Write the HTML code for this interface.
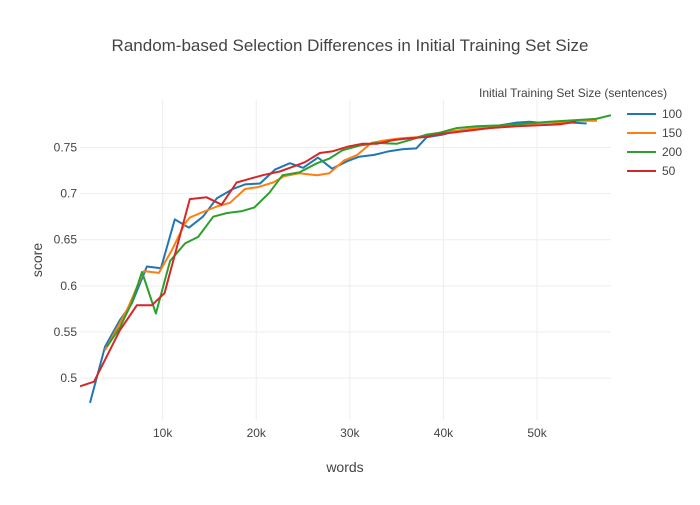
<!DOCTYPE html>
<html><head><meta charset="utf-8">
<style>
body{margin:0;background:#fff;}
svg text{font-family:"Liberation Sans",sans-serif;fill:#444;}
</style></head>
<body>
<svg id="chart" width="700" height="500" xmlns="http://www.w3.org/2000/svg">
<rect width="700" height="500" fill="#fff"/>
<text x="350" y="51" text-anchor="middle" font-size="17">Random-based Selection Differences in Initial Training Set Size</text>
<g id="grid"></g>
<g id="series"></g>
<g id="axes"></g>
<text x="345" y="472" text-anchor="middle" font-size="14">words</text>
<text transform="translate(42,260) rotate(-90)" text-anchor="middle" font-size="14">score</text>
<text x="479" y="97" font-size="12">Initial Training Set Size (sentences)</text>
<g id="legend"></g>
</svg>
<script>
const seriesNames = ["100","150","200","50"];
const seriesColors = ["#1f77b4","#ff7f0e","#2ca02c","#d62728"];
const xTicks = [10,20,30,40,50];
const xTickLabels = ["10k","20k","30k","40k","50k"];
const yTicks = [0.5,0.55,0.6,0.65,0.7,0.75];
const yTickLabels = ["0.5","0.55","0.6","0.65","0.7","0.75"];
const x100 = [2.24,3.84,5.44,6.72,8.32,9.81,11.3,12.8,14.3,15.8,17.5,18.8,20.4,22.0,23.6,25.0,26.6,28.1,29.7,31.0,32.6,34.2,35.6,37.1,38.2,39.9,41.4,43.5,46.0,47.8,49.2,50.2,52.1,53.8,55.3];
const y100 = [0.473,0.534,0.563,0.581,0.621,0.619,0.672,0.663,0.675,0.695,0.705,0.710,0.711,0.726,0.733,0.728,0.739,0.727,0.735,0.740,0.742,0.746,0.748,0.749,0.761,0.764,0.768,0.771,0.774,0.777,0.778,0.777,0.777,0.777,0.776];
const x150 = [3.84,5.44,6.29,8.0,9.6,11.0,12.4,12.9,14.3,15.8,17.2,18.8,20.2,21.8,23.0,24.6,26.5,27.8,29.4,30.8,32.3,33.9,35.5,37.1,38.5,40.6,44.2,47.8,51.3,54.8,56.4];
const y150 = [0.530,0.560,0.576,0.616,0.614,0.639,0.668,0.674,0.680,0.686,0.690,0.705,0.707,0.712,0.719,0.722,0.720,0.722,0.736,0.742,0.755,0.758,0.760,0.761,0.764,0.767,0.772,0.775,0.777,0.779,0.779];
const x200 = [4.05,5.44,6.72,7.79,9.28,10.8,12.4,13.8,15.4,16.9,18.5,19.8,21.4,22.8,24.6,26.5,27.8,29.2,31.0,32.9,35.0,36.7,38.2,39.6,41.4,43.5,46.0,48.9,51.3,54.8,56.3,57.9];
const y200 = [0.534,0.555,0.582,0.615,0.570,0.627,0.646,0.653,0.675,0.679,0.681,0.685,0.701,0.720,0.723,0.733,0.738,0.747,0.752,0.755,0.754,0.759,0.764,0.766,0.771,0.773,0.774,0.776,0.778,0.780,0.781,0.785];
const x50 = [1.17,2.67,5.44,7.25,8.85,10.2,12.9,14.7,16.3,17.9,19.3,20.7,22.5,23.6,25.2,26.8,28.2,29.8,31.3,32.9,34.6,36.4,37.8,39.9,42.5,44.9,47.8,49.9,52.4,54.2];
const y50 = [0.491,0.496,0.552,0.579,0.579,0.592,0.694,0.696,0.688,0.712,0.716,0.720,0.724,0.728,0.734,0.744,0.746,0.751,0.754,0.754,0.758,0.760,0.761,0.765,0.768,0.771,0.773,0.774,0.775,0.778];

const NS="http://www.w3.org/2000/svg";
const L=80,R=611,T=100,B=420;
const xMin=1.17,xMax=57.9,yMin=0.4545,yMax=0.8015;
const xs=v=>L+(v-xMin)/(xMax-xMin)*(R-L);
const ys=v=>B-(v-yMin)/(yMax-yMin)*(B-T);
function mk(tag,attrs,parent){const e=document.createElementNS(NS,tag);for(const k in attrs)e.setAttribute(k,attrs[k]);parent.appendChild(e);return e;}
const grid=document.getElementById('grid'),axes=document.getElementById('axes');
xTicks.forEach((t,i)=>{
  const g=mk('line',{x1:xs(t),x2:xs(t),y1:T,y2:B,stroke:'#eee','stroke-width':1},grid);
  
  
  const tx=mk('text',{x:xs(t),y:B+17,'text-anchor':'middle','font-size':12},axes);
  tx.textContent=xTickLabels[i];
  
  
});
yTicks.forEach((t,i)=>{
  const g=mk('line',{x1:L,x2:R,y1:ys(t),y2:ys(t),stroke:'#eee','stroke-width':1},grid);
  
  
  const tx=mk('text',{x:L-3,y:ys(t)+4,'text-anchor':'end','font-size':12},axes);
  tx.textContent=yTickLabels[i];
  
  
});
const clip=mk('clipPath',{id:'pc'},document.getElementById('chart'));
mk('rect',{x:L,y:T,width:R-L,height:B-T},clip);
const sg=document.getElementById('series');sg.setAttribute('clip-path','url(#pc)');
const xsData=[x100,x150,x200,x50],ysData=[y100,y150,y200,y50];
xsData.forEach((xa,si)=>{
  const d=xa.map((v,i)=>(i?'L':'M')+xs(v).toFixed(1)+','+ys(ysData[si][i]).toFixed(1)).join('');
  const p=mk('path',{d:d,fill:'none',stroke:seriesColors[si],'stroke-width':2,'stroke-linejoin':'round'},sg);
  
  
});
const lg=document.getElementById('legend');
seriesNames.forEach((n,i)=>{
  const y=114+i*19;
  const g=mk('g',{},lg);
  
  
  mk('line',{x1:627,x2:656,y1:y,y2:y,stroke:seriesColors[i],'stroke-width':2},g);
  const t=mk('text',{x:662,y:y+4,'font-size':12},g);
  t.textContent=n;
});
</script>
</body></html>
